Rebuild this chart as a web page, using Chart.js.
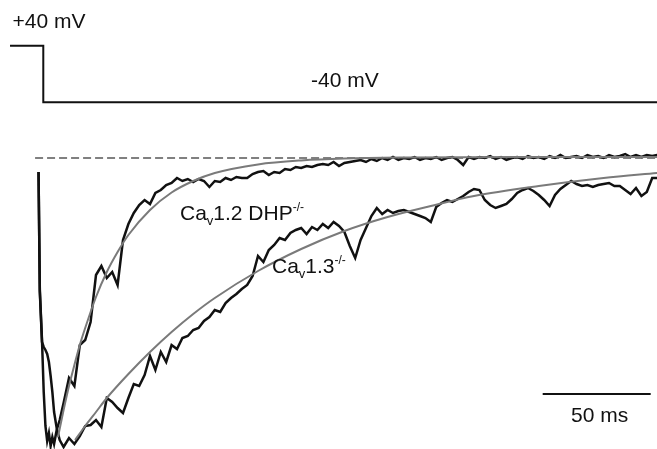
<!DOCTYPE html>
<html>
<head>
<meta charset="utf-8">
<script src="https://cdn.jsdelivr.net/npm/chart.js@4/dist/chart.umd.min.js"></script>
<style>
  html, body { margin: 0; padding: 0; background: #fff; }
  #wrap { width: 657px; height: 449px; position: relative; }
</style>
</head>
<body>
<div id="wrap"><canvas id="c" width="657" height="449"></canvas></div>
<script>
// ---- Data (time in ms, current in pA, voltage in mV) ----
const timeMs = [-1.6, -1, 0, 0.8, 1.6, 2.4, 3.2, 4, 4.8, 5.6, 6.8, 8.2,
  10, 12.5, 15, 17.5, 20, 22.5, 25, 27.5, 30, 32.5, 35, 37.5, 40, 42.5, 45, 47.5, 50, 52.5, 55, 57.5,
  60, 62.5, 65, 67.5, 70, 72.5, 75, 77.5, 80, 82.5, 85, 87.5, 90, 92.5, 95, 97.5, 100, 102.5, 105, 107.5,
  110, 112.5, 115, 117.5, 120, 122.5, 125, 127.5, 130, 132.5, 135, 137.5, 140, 142.5, 145, 147.5, 150, 152.5,
  155, 157.5, 160, 162.5, 165, 167.5, 170, 172.5, 175, 177.5, 180, 182.5, 185, 187.5, 190, 192.5, 195, 197.5,
  200, 202.5, 205, 207.5, 210, 212.5, 215, 217.5, 220, 222.5, 225, 227.5, 230, 232.5, 235, 237.5, 240, 242.5,
  245, 247.5, 250, 252.5, 255, 257.5, 260, 262.5, 265, 267.5, 270, 272.5, 275, 277.5, 280, 282.5, 285];

const cav12Current = [-14, -132, -182, -234, -268, -283, -275, -288, -279, -286, -272, -262,
  -245, -220, -228, -187, -182, -164, -117, -108, -120, -114,
  -127, -82, -66, -55, -47, -42, -46, -35, -32, -27,
  -25, -20, -23, -21, -24, -21, -23, -29, -23, -24,
  -20, -22, -19, -20, -20, -16, -14, -13, -17, -14,
  -15, -11, -12, -9, -10, -8, -9, -7, -6, -7,
  -4, -8, -5, -4, -3, -2, -4, -1, -3, 0,
  -2, 1, -2, 0, -1, 1, -2, 0, -1, 1,
  -2, 0, 1, -2, -7, 1, -1, 1, 0, 2,
  -1, 1, -2, 0, 1, -1, 2, 0, 1, -1,
  2, 0, 3, 0, 1, 2, 0, 3, 1, 2,
  0, 3, 1, 2, 4, 1, 3, 1, 3, 2,
  3];

const cav13Current = [-14, -134, -184, -189, -192, -196, -204, -218, -234, -254, -270, -282,
  -289, -280, -286, -278, -268, -267, -262, -269, -240, -244,
  -250, -255, -240, -226, -228, -217, -198, -212, -194, -204,
  -187, -191, -180, -178, -172, -170, -163, -159, -152, -154,
  -145, -140, -136, -131, -127, -118, -98, -104, -92, -87,
  -80, -82, -75, -72, -70, -76, -69, -72, -66, -70,
  -64, -68, -74, -88, -100, -82, -70, -58, -50, -56,
  -52, -55, -53, -52, -54, -56, -58, -60, -64, -49,
  -45, -42, -44, -41, -38, -34, -31, -32, -42, -47,
  -50, -48, -46, -41, -35, -32, -30, -33, -37, -42,
  -48, -37, -31, -27, -23, -26, -28, -27, -29, -27,
  -26, -25, -28, -28, -32, -36, -30, -38, -34, -20,
  -20];

const fit12Time = [7.4, 10, 12.5, 15, 17.5, 20, 25, 30, 35, 40, 50, 60, 70, 80, 100, 120, 140, 170, 220, 285];
const fit12Current = [-279, -252, -228, -207, -187, -170, -139, -114, -94, -77, -52, -34.5, -23, -15, -6.4, -2.4, -0.5, 0.5, 1, 1];

const fit13Time = [15.3, 20, 25, 30, 40, 50, 60, 70, 80, 100, 120, 140, 160, 180, 200, 230, 260, 285];
const fit13Current = [-282, -268, -254, -240, -216, -194, -174, -156, -140, -113, -91, -73, -59, -48, -38, -28, -20, -15];

const stepTime = [-14.8, 0.6, 0.6, 285];
const stepVoltage = [40, 40, -40, -40];

const baselineTime = [-3.2, 285];
const baselineCurrent = [0, 0];

const scaleBarTime = [231.8, 281.8];   // 50 ms
const scaleBarCurrent = [-236, -236];

// ---- Build datasets ----
const zip = (xs, ys) => xs.map((x, i) => ({ x: x, y: ys[i] }));

const FONT = '"Liberation Sans", Arial, Helvetica, sans-serif';

const labelPlugin = {
  id: 'labels',
  afterDatasetsDraw(chart) {
    const ctx = chart.ctx;
    ctx.save();
    ctx.fillStyle = '#111';
    ctx.textBaseline = 'alphabetic';
    ctx.textAlign = 'left';
    function rich(parts, x, y) {
      let cx = x;
      parts.forEach(p => {
        ctx.font = p.size + 'px ' + FONT;
        ctx.fillText(p.t, cx, y + (p.dy || 0));
        cx += ctx.measureText(p.t).width;
      });
    }
    rich([{ t: '+40 mV', size: 21 }], 12.5, 28);
    rich([{ t: '-40 mV', size: 21 }], 311, 87);
    const xs = chart.scales.x;
    const mid = (xs.getPixelForValue(scaleBarTime[0]) + xs.getPixelForValue(scaleBarTime[1])) / 2;
    ctx.font = '21px ' + FONT;
    ctx.textAlign = 'center';
    ctx.fillText('50 ms', mid + 3, 422);
    ctx.textAlign = 'left';
    rich([{ t: 'Ca', size: 21 }, { t: 'v', size: 13, dy: 5 }, { t: '1.2 DHP', size: 21 }, { t: '-/-', size: 12, dy: -9 }], 180, 220);
    rich([{ t: 'Ca', size: 21 }, { t: 'v', size: 13, dy: 5 }, { t: '1.3', size: 21 }, { t: '-/-', size: 12, dy: -9 }], 272, 273);
    ctx.restore();
  }
};

new Chart(document.getElementById('c'), {
  type: 'line',
  data: {
    datasets: [
      { label: 'Cav1.2 fit', data: zip(fit12Time, fit12Current), borderColor: '#7a7a7a', borderWidth: 2, tension: 0.4, cubicInterpolationMode: 'monotone', pointRadius: 0, order: 0, yAxisID: 'y' },
      { label: 'Cav1.3 fit', data: zip(fit13Time, fit13Current), borderColor: '#7a7a7a', borderWidth: 2, tension: 0.4, cubicInterpolationMode: 'monotone', pointRadius: 0, order: 0, yAxisID: 'y' },
      { label: 'Cav1.2 DHP-/-', data: zip(timeMs, cav12Current), borderColor: '#111', borderWidth: 2.5, tension: 0, pointRadius: 0, order: 1, yAxisID: 'y' },
      { label: 'Cav1.3-/-', data: zip(timeMs, cav13Current), borderColor: '#111', borderWidth: 2.5, tension: 0, pointRadius: 0, order: 1, yAxisID: 'y' },
      { label: 'baseline', data: zip(baselineTime, baselineCurrent), borderColor: '#808080', borderWidth: 2, borderDash: [8, 4], pointRadius: 0, order: 2, yAxisID: 'y' },
      { label: 'voltage', data: zip(stepTime, stepVoltage), borderColor: '#111', borderWidth: 2, pointRadius: 0, order: 2, yAxisID: 'yV', tension: 0 },
      { label: 'scale', data: zip(scaleBarTime, scaleBarCurrent), borderColor: '#111', borderWidth: 2, pointRadius: 0, order: 2, yAxisID: 'y' }
    ]
  },
  options: {
    responsive: false,
    animation: false,
    devicePixelRatio: 1,
    layout: { padding: 0 },
    plugins: { legend: { display: false }, tooltip: { enabled: false } },
    scales: {
      x: { type: 'linear', display: false, min: -19.44, max: 284.72 },
      y: { type: 'linear', display: false, min: -291, max: 158 },
      yV: { type: 'linear', display: false, min: -530, max: 104.6 }
    }
  },
  plugins: [labelPlugin]
});
</script>
</body>
</html>
